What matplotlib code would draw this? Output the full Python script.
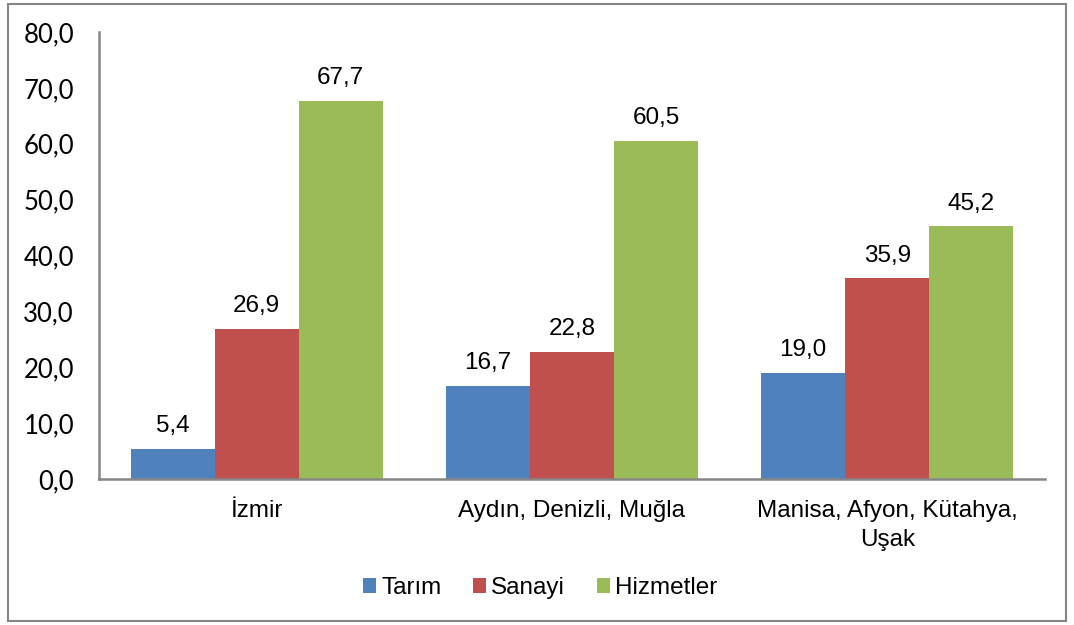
import matplotlib.pyplot as plt
import numpy as np
from matplotlib.patches import Rectangle

regions = ["İzmir", "Aydın, Denizli, Muğla", "Manisa, Afyon, Kütahya,\nUşak"]
series = ["Tarım", "Sanayi", "Hizmetler"]
tarim = [5.4, 16.7, 19.0]
sanayi = [26.9, 22.8, 35.9]
hizmetler = [67.7, 60.5, 45.2]
yticks = [0, 10, 20, 30, 40, 50, 60, 70, 80]

colors = ["#4F81BD", "#C0504D", "#9BBB59"]
fs = 17.5

plt.rcParams["font.family"] = ["Liberation Sans", "DejaVu Sans"]

fig = plt.figure(figsize=(10.74, 6.25), dpi=100)
W, H = 1074, 625
ax = fig.add_axes([99 / W, 1 - 479 / H, (1045 - 99) / W, (479 - 32) / H])

# cerceve okoli celotne slike
fig.patches.append(Rectangle((8 / W, 4 / H), (1066 - 8) / W, (621 - 4) / H,
                             transform=fig.transFigure, fill=False,
                             edgecolor="#868686", linewidth=1.5))

x = np.arange(len(regions))
w = 0.8 / 3
for i, (name, vals) in enumerate(zip(series, [tarim, sanayi, hizmetler])):
    bars = ax.bar(x + (i - 1) * w, vals, w, color=colors[i], label=name)
    for b, v in zip(bars, vals):
        ax.text(b.get_x() + b.get_width() / 2, v + 2.1, f"{v:.1f}".replace(".", ","),
                ha="center", va="bottom", fontsize=fs)

ax.set_xlim(-0.5, 2.5)
ax.set_ylim(0, 80)
ax.set_yticks(yticks)
ax.set_yticklabels([f"{t:.1f}".replace(".", ",") for t in yticks],
                   fontfamily="Lato", fontsize=18.5)
ax.set_xticks(x)
ax.set_xticklabels(regions, fontsize=fs, linespacing=1.45)
ax.tick_params(axis="y", length=0, pad=18)
ax.tick_params(axis="x", length=0, pad=15)
for s in ["top", "right"]:
    ax.spines[s].set_visible(False)
for s in ["left", "bottom"]:
    ax.spines[s].set_color("#868686")
    ax.spines[s].set_linewidth(1.8)

fig.legend(loc="center", bbox_to_anchor=(540 / W, 1 - 588 / H), ncol=3,
           frameon=False, fontsize=fs, handlelength=0.55, handleheight=0.55,
           handletextpad=0.2, columnspacing=1.3)

fig.savefig("out.png", dpi=100)
